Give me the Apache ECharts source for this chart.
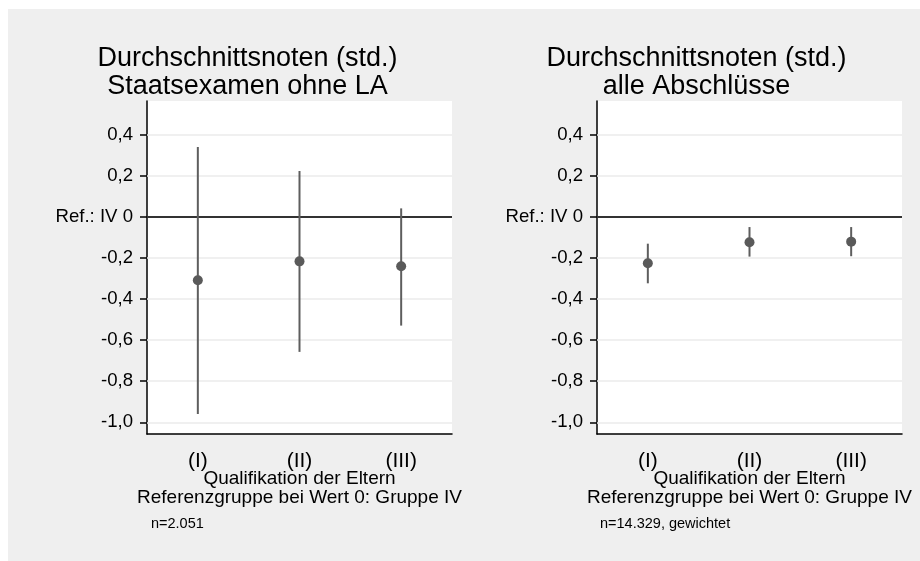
<!DOCTYPE html>
<html><head><meta charset="utf-8">
<script src="https://cdn.jsdelivr.net/npm/echarts@6/dist/echarts.min.js"></script>
<style>html,body{margin:0;padding:0;background:#fff}#c{width:920px;height:561px}</style>
</head><body><div id="c"></div>
<script>
const categories = ['(I)', '(II)', '(III)'];
const leftEst  = [-0.308, -0.216, -0.240];
const leftLow  = [-0.960, -0.657, -0.529];
const leftHigh = [ 0.341,  0.224,  0.042];
const rightEst  = [-0.225, -0.123, -0.120];
const rightLow  = [-0.323, -0.193, -0.191];
const rightHigh = [-0.130, -0.049, -0.049];
const yTicks = [-1.0, -0.8, -0.6, -0.4, -0.2, 0, 0.2, 0.4];
const yTickLabels = ['-1,0', '-0,8', '-0,6', '-0,4', '-0,2', 'Ref.: IV 0', '0,2', '0,4'];
const panelTitles = ['Durchschnittsnoten (std.)\nStaatsexamen ohne LA', 'Durchschnittsnoten (std.)\nalle Abschlüsse'];
const xName = 'Qualifikation der Eltern\nReferenzgruppe bei Wert 0: Gruppe IV';
const notes = ['n=2.051', 'n=14.329, gewichtet'];
const yMin = -1.057, yMax = 0.565;

const FONT = "'Liberation Sans', Arial, sans-serif";
const gridLefts = [147, 597];
const titleCenters = [247.5, 696.5];
const noteLefts = [151, 600];
const est = [leftEst, rightEst], low = [leftLow, rightLow], high = [leftHigh, rightHigh];

function fmt(v) {
  for (let i = 0; i < yTicks.length; i++) if (Math.abs(yTicks[i] - v) < 1e-9) return yTickLabels[i];
  return '';
}

const option = {
  animation: false,
  backgroundColor: '#fff',
  graphic: [{type: 'rect', silent: true, z: -100, shape: {x: 8, y: 9, width: 912, height: 552}, style: {fill: '#efefef'}}],
  title: [0, 1].map(i => ({
    text: panelTitles[i], left: titleCenters[i], top: 45, textAlign: 'center', padding: 0,
    textStyle: {fontFamily: FONT, fontSize: 27, lineHeight: 28, fontWeight: 'normal', color: '#000'}
  })).concat([0, 1].map(i => ({
    text: notes[i], left: noteLefts[i], top: 516.5, padding: 0,
    textStyle: {fontFamily: FONT, fontSize: 14.5, lineHeight: 15, fontWeight: 'normal', color: '#000'}
  }))),
  grid: gridLefts.map(l => ({left: l, top: 101, width: 305, height: 333, show: true, backgroundColor: '#fff', borderWidth: 0, containLabel: false})),
  xAxis: [0, 1].map(i => ({
    type: 'category', gridIndex: i, data: categories, boundaryGap: true,
    axisLine: {onZero: false, lineStyle: {color: '#000', width: 1.5}},
    axisTick: {alignWithLabel: true, length: 7, lineStyle: {color: '#000', width: 1.5}},
    axisLabel: {fontFamily: FONT, fontSize: 21, color: '#000', margin: 16.5},
    splitLine: {show: false},
    name: xName, nameLocation: 'middle', nameGap: 35.5, nameMoveOverlap: false,
    nameTextStyle: {fontFamily: FONT, fontSize: 19, lineHeight: 19, color: '#000'}
  })),
  yAxis: [0, 1].map(i => ({
    type: 'value', gridIndex: i, min: yMin, max: yMax,
    axisLine: {show: true, onZero: false, lineStyle: {color: '#000', width: 1.5}},
    axisTick: {show: true, length: 7, customValues: yTicks, lineStyle: {color: '#000', width: 1.5}},
    axisLabel: {customValues: yTicks, formatter: fmt, fontFamily: FONT, fontSize: 18.6, color: '#000', margin: 14},
    splitLine: {show: false}
  })),
  series: [0, 1].flatMap(i => [
    {
      type: 'custom', xAxisIndex: i, yAxisIndex: i, z: 2,
      data: categories.map((c, j) => [j, low[i][j], high[i][j]]),
      encode: {x: 0, y: [1, 2]},
      renderItem: (params, api) => {
        const a = api.coord([api.value(0), api.value(1)]);
        const b = api.coord([api.value(0), api.value(2)]);
        return {type: 'line', shape: {x1: a[0], y1: a[1], x2: b[0], y2: b[1]}, style: {stroke: '#5e5e5e', lineWidth: 2}};
      },
      markLine: {
        silent: true, z: 1, symbol: ['none', 'none'], label: {show: false},
        lineStyle: {color: '#ebebeb', width: 1.7, type: 'solid'},
        data: yTicks.map(v => v === 0 ? {yAxis: v, lineStyle: {color: '#333', width: 2, type: 'solid'}} : {yAxis: v})
      }
    },
    {
      type: 'scatter', xAxisIndex: i, yAxisIndex: i, z: 3, symbol: 'circle', symbolSize: 10,
      itemStyle: {color: '#5a5a5a', opacity: 1},
      data: categories.map((c, j) => [j, est[i][j]])
    }
  ])
};
echarts.init(document.getElementById('c')).setOption(option);
</script></body></html>
